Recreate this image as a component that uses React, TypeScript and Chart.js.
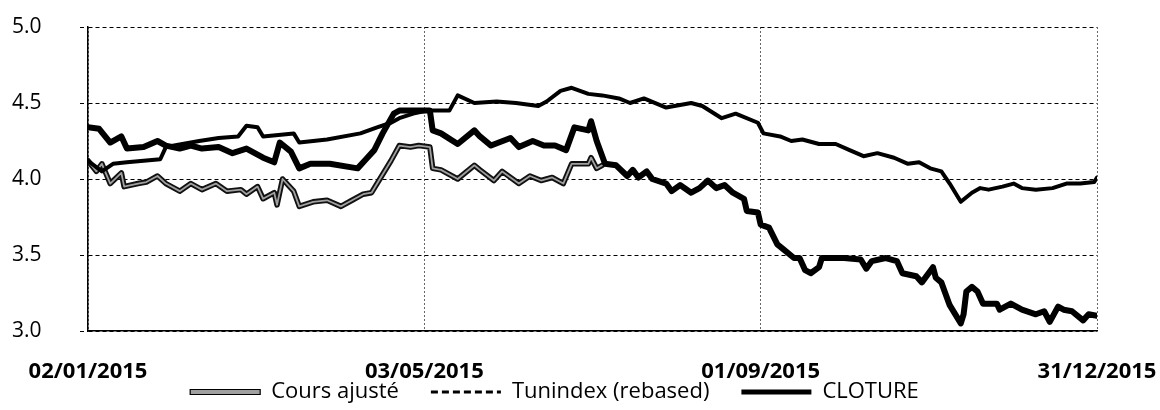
import { useEffect, useRef } from 'react';
import { Chart, registerables } from 'chart.js';

Chart.register(...registerables);

// X axis: days since 02/01/2015
const xTickDays = [0, 121, 242, 363];
const xTickLabels = ['02/01/2015', '03/05/2015', '01/09/2015', '31/12/2015'];
const yTickValues = [3.0, 3.5, 4.0, 4.5, 5.0];
const yTickLabels = ['3.0', '3.5', '4.0', '4.5', '5.0'];

// Tunindex (rebased)
const tunDays = [0, 5, 9, 14, 20, 26, 28, 40, 47, 54, 57, 61, 63, 74, 76, 86, 98, 104, 109, 112, 117, 122, 130, 133, 139, 147, 154, 162, 165, 170, 174, 180, 185, 191, 195, 200, 208, 217, 221, 228, 233, 241, 243, 249, 253, 257, 263, 269, 274, 279, 284, 290, 295, 299, 303, 307, 310, 314, 318, 321, 324, 329, 333, 336, 341, 347, 352, 357, 362, 363];
const tunVals = [4.12, 4.05, 4.10, 4.11, 4.12, 4.13, 4.21, 4.25, 4.27, 4.28, 4.35, 4.34, 4.28, 4.30, 4.24, 4.26, 4.30, 4.34, 4.37, 4.40, 4.43, 4.45, 4.45, 4.55, 4.50, 4.51, 4.50, 4.48, 4.51, 4.58, 4.60, 4.56, 4.55, 4.53, 4.50, 4.53, 4.47, 4.50, 4.48, 4.40, 4.43, 4.37, 4.30, 4.28, 4.25, 4.26, 4.23, 4.23, 4.19, 4.15, 4.17, 4.14, 4.10, 4.11, 4.07, 4.05, 3.97, 3.85, 3.91, 3.94, 3.93, 3.95, 3.97, 3.94, 3.93, 3.94, 3.97, 3.97, 3.98, 4.01];

// CLOTURE
const cloDays = [0, 4, 8, 12, 14, 20, 25, 28, 33, 37, 41, 47, 52, 57, 61, 63, 67, 69, 73, 76, 80, 87, 97, 100, 103, 106, 110, 112, 116, 119, 123, 124, 127, 133, 139, 141, 145, 152, 155, 160, 164, 168, 172, 175, 180, 181, 183, 186, 190, 194, 196, 198, 201, 203, 208, 210, 213, 217, 220, 223, 226, 229, 232, 236, 237, 241, 242, 245, 248, 250, 254, 256, 258, 260, 263, 264, 272, 278, 280, 282, 287, 291, 293, 298, 300, 304, 305, 307, 310, 314, 315, 316, 318, 320, 322, 327, 328, 332, 336, 341, 344, 346, 349, 351, 354, 358, 360, 363];
const cloVals = [4.34, 4.33, 4.24, 4.28, 4.20, 4.21, 4.25, 4.22, 4.20, 4.22, 4.20, 4.21, 4.17, 4.20, 4.16, 4.14, 4.11, 4.24, 4.18, 4.07, 4.10, 4.10, 4.07, 4.13, 4.19, 4.30, 4.43, 4.45, 4.45, 4.45, 4.45, 4.32, 4.30, 4.23, 4.32, 4.28, 4.22, 4.27, 4.21, 4.25, 4.22, 4.22, 4.19, 4.34, 4.32, 4.38, 4.25, 4.10, 4.09, 4.02, 4.06, 4.01, 4.05, 4.00, 3.97, 3.92, 3.96, 3.91, 3.94, 3.99, 3.94, 3.96, 3.91, 3.87, 3.79, 3.78, 3.70, 3.68, 3.57, 3.54, 3.48, 3.48, 3.40, 3.38, 3.42, 3.48, 3.48, 3.47, 3.41, 3.46, 3.48, 3.46, 3.38, 3.36, 3.32, 3.42, 3.35, 3.32, 3.17, 3.05, 3.11, 3.26, 3.29, 3.26, 3.18, 3.18, 3.14, 3.18, 3.14, 3.11, 3.13, 3.06, 3.16, 3.14, 3.13, 3.07, 3.11, 3.10];

// Cours ajusté (merges with CLOTURE after late July)
const caDays = [0, 3, 5, 8, 12, 13, 18, 21, 25, 28, 33, 37, 41, 46, 50, 55, 57, 61, 63, 67, 68, 70, 74, 76, 81, 86, 91, 95, 99, 102, 105, 109, 112, 116, 119, 123, 124, 127, 133, 139, 141, 146, 149, 155, 159, 163, 167, 171, 174, 180, 181, 183, 185];
const caVals = [4.12, 4.05, 4.10, 3.97, 4.04, 3.95, 3.97, 3.98, 4.02, 3.97, 3.92, 3.97, 3.93, 3.97, 3.92, 3.93, 3.90, 3.95, 3.87, 3.91, 3.83, 4.00, 3.92, 3.82, 3.85, 3.86, 3.82, 3.86, 3.90, 3.91, 4.00, 4.12, 4.22, 4.21, 4.22, 4.21, 4.07, 4.06, 4.00, 4.09, 4.06, 3.99, 4.05, 3.97, 4.02, 3.99, 4.01, 3.97, 4.10, 4.10, 4.14, 4.07, 4.09];

const FONT = "'Open Sans', 'Noto Sans', sans-serif";

const toPts = (d: number[], v: number[]) => d.map((x, i) => ({ x, y: v[i] }));

export default function App() {
  const ref = useRef<HTMLCanvasElement | null>(null);

  useEffect(() => {
    document.body.style.margin = '0';
    const canvas = ref.current;
    if (!canvas) return;
    const common = { pointRadius: 0, tension: 0, borderJoinStyle: 'round' as const, borderCapStyle: 'round' as const, fill: false };
    const chart = new Chart(canvas, {
      type: 'line',
      data: {
        datasets: [
          { label: 'CLOTURE', data: toPts(cloDays, cloVals), borderColor: '#000', borderWidth: 6, order: 1, ...common },
          { label: 'Tunindex (rebased)', data: toPts(tunDays, tunVals), borderColor: '#000', borderWidth: 4, order: 2, ...common },
          { label: 'Cours ajusté (inner)', data: toPts(caDays, caVals), borderColor: '#a0a0a0', borderWidth: 1.8, order: 3, ...common },
          { label: 'Cours ajusté', data: toPts(caDays, caVals), borderColor: '#111', borderWidth: 5.5, order: 4, ...common },
        ],
      },
      options: {
        animation: false,
        responsive: false,
        devicePixelRatio: 1,
        layout: { padding: { top: 27, right: 63, left: 12, bottom: -3 } },
        plugins: {
          tooltip: { enabled: false },
          legend: {
            position: 'bottom',
            onClick: () => {},
            labels: {
              usePointStyle: true,
              pointStyleWidth: 70,
              boxHeight: 5,
              padding: 32,
              color: '#000',
              font: { family: FONT, size: 22 },
              generateLabels: () => [
                { text: 'Cours ajusté', fillStyle: '#a0a0a0', strokeStyle: '#000', lineWidth: 1.2, pointStyle: 'rect', hidden: false, datasetIndex: 3, fontColor: '#000' },
                { text: 'Tunindex (rebased)', fillStyle: '#000', strokeStyle: '#000', lineWidth: 3, lineDash: [7, 4], pointStyle: 'line', hidden: false, datasetIndex: 1, fontColor: '#000' },
                { text: 'CLOTURE', fillStyle: '#000', strokeStyle: '#000', lineWidth: 5, pointStyle: 'line', hidden: false, datasetIndex: 0, fontColor: '#000' },
              ] as any,
            },
          },
        },
        scales: {
          x: {
            type: 'linear',
            min: 0,
            max: 363,
            afterBuildTicks: (s: any) => { s.ticks = xTickDays.map((v) => ({ value: v })); },
            afterFit: (s: any) => {
              s.height = 18;
              s._computeLabelArea = () => undefined;
            },
            ticks: {
              autoSkip: false,
              maxRotation: 0,
              padding: 0,
              color: '#000',
              font: { family: FONT, size: 22, weight: 'bold' },
              callback: (_v: any, i: number) => xTickLabels[i] ?? '',
            },
            grid: { color: '#666', lineWidth: 1, drawTicks: true, tickLength: 28, tickColor: 'rgba(0,0,0,0)' },
            border: { display: true, color: '#000', width: 1.5, dash: [2, 2] },
          },
          y: {
            type: 'linear',
            min: 3,
            max: 5,
            afterBuildTicks: (s: any) => { s.ticks = yTickValues.map((v) => ({ value: v })); },
            afterFit: (s: any) => { s.width = 76; },
            ticks: {
              padding: 0,
              crossAlign: 'far',
              color: '#000',
              font: { family: FONT, size: 21 },
              callback: (_v: any, i: number) => yTickLabels[i] ?? '',
            },
            grid: { color: '#000', lineWidth: 1, tickLength: 8, tickBorderDash: [4, 3], tickColor: '#000' },
            border: { display: true, color: '#000', width: 1.5, dash: [4, 3] },
          },
        },
      },
    });
    return () => chart.destroy();
  }, []);

  return (
    <div style={{ width: 1160, height: 410, background: '#fff' }}>
      <canvas ref={ref} width={1160} height={410} style={{ display: 'block', width: 1160, height: 410 }} />
    </div>
  );
}
